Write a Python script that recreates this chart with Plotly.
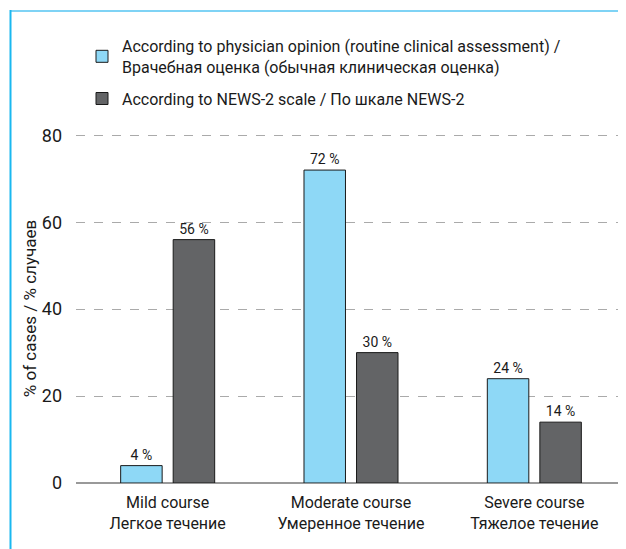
import plotly.graph_objects as go

categories = ["Mild course<br>Легкое течение", "Moderate course<br>Умеренное течение", "Severe course<br>Тяжелое течение"]
physician = [4, 72, 24]
news2 = [56, 30, 14]
series_names = [
    "According to physician opinion (routine clinical assessment) /<br>Врачебная оценка (обычная клиническая оценка)",
    "According to NEWS-2 scale / По шкале NEWS-2",
]
y_ticks = [0, 20, 40, 60, 80]

FONT = "Roboto"
W, H = 626, 549
ML, MR, MT, MB = 68, 8, 126, 74
PW, PH = W - ML - MR, H - MT - MB

def px_x(p):
    return (p - ML) / PW

def px_y(p):
    return (H - MB - p) / PH

fig = go.Figure()
fig.add_trace(go.Bar(
    x=categories, y=physician, name=series_names[0], legendgroup="a",
    marker=dict(color="#8ed8f6", line=dict(color="#1a1a1a", width=1)),
    texttemplate="%{y} %", textposition="outside", constraintext="none",
    textfont=dict(size=14, color="#1a1a1a", family=FONT), cliponaxis=False,
))
fig.add_trace(go.Bar(
    x=categories, y=news2, name=series_names[1], legendgroup="b",
    marker=dict(color="#636466", line=dict(color="#1a1a1a", width=1)),
    texttemplate="%{y} %", textposition="outside", constraintext="none",
    textfont=dict(size=14, color="#1a1a1a", family=FONT), cliponaxis=False,
))

fig.update_layout(
    width=W, height=H,
    margin=dict(l=ML, r=MR, t=MT, b=MB, autoexpand=False),
    paper_bgcolor="white", plot_bgcolor="white",
    font=dict(family=FONT, color="#1a1a1a"),
    barmode="group", bargap=0.427, bargroupgap=0.21,
    showlegend=True,
    legend=dict(
        x=px_x(74), y=px_y(21), xanchor="left", yanchor="top",
        font=dict(size=16, family=FONT, color="#1a1a1a"),
        traceorder="grouped", tracegroupgap=8, itemwidth=30, bgcolor="rgba(0,0,0,0)",
    ),
    xaxis=dict(
        tickfont=dict(size=16, family=FONT, color="#1a1a1a"),
        showgrid=False, showline=False, ticks="", automargin=False,
        ticklabelstandoff=8,
    ),
    yaxis=dict(
        range=[0, 80.3], tickvals=y_ticks, ticktext=[str(v) for v in y_ticks],
        tickfont=dict(size=18, family=FONT, color="#1a1a1a"),
        showgrid=True, gridcolor="#aaaaaa", griddash="dash", gridwidth=1,
        zeroline=True, zerolinecolor="#999999", zerolinewidth=2,
        ticks="", ticklabelstandoff=13, automargin=False,
        title=dict(text="% of cases / % случаев", font=dict(size=17, family=FONT, color="#1a1a1a"), standoff=0),
    ),
    shapes=[
        dict(type="line", xref="paper", yref="paper", x0=px_x(2.5), x1=px_x(W), y0=px_y(3), y1=px_y(3),
             line=dict(color="#7fd3f5", width=2)),
        dict(type="line", xref="paper", yref="paper", x0=px_x(2.5), x1=px_x(2.5), y0=px_y(2), y1=px_y(H),
             line=dict(color="#1ab8f0", width=2)),
    ],
)

fig.write_html("out.html")
